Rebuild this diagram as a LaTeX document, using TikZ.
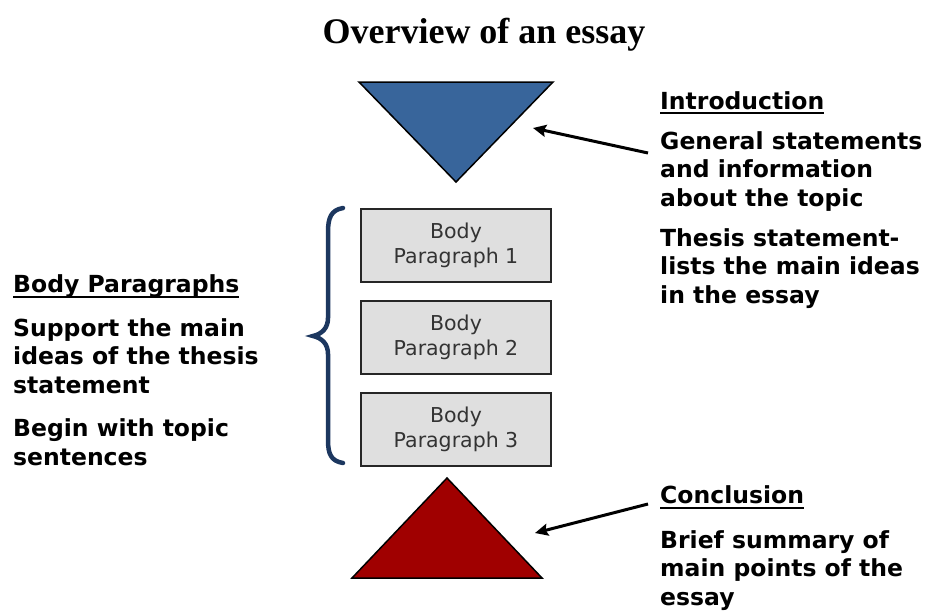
\documentclass[tikz,border=0pt]{standalone}
\usepackage{fontspec}
\setmainfont{DejaVu Sans}
\newfontfamily\titlefont{Liberation Serif}
\usetikzlibrary{positioning,arrows.meta}
\definecolor{introblue}{RGB}{56,101,155}
\definecolor{conclred}{RGB}{160,0,0}
\definecolor{boxgray}{RGB}{223,223,223}
\definecolor{bracenavy}{RGB}{28,55,95}

% underlined heading
\newcommand{\headline}[1]{\setbox0\hbox{#1}\rlap{\vrule height -3pt depth 5pt width \wd0}\box0}

\tikzset{
  note/.style={anchor=base west, align=left, inner sep=0pt,
    font=\fontsize{23.5}{28.5}\selectfont\bfseries},
  parbox/.style={draw=black!85, line width=2pt, fill=boxgray,
    minimum width=190pt, minimum height=73pt, inner sep=0pt,
    align=center, text=black!80, font=\fontsize{20.5}{25}\selectfont},
  pointer/.style={-{Stealth[length=13pt, width=12pt, inset=2pt]}, line width=3pt}
}

\begin{document}
\begin{tikzpicture}[x=1pt, y=-1pt]
    \useasboundingbox (0,0) rectangle (928,613);

    % title
    \node[anchor=base, inner sep=0pt, font=\titlefont\bfseries\fontsize{36}{40}\selectfont]
        (title) at (484,43) {Overview of an essay};

    % triangles
    \draw[fill=introblue, line width=1.5pt, line join=miter] (359,82) -- (553,82) -- (456,182) -- cycle;
    \draw[fill=conclred, line width=1.5pt, line join=miter] (352,578) -- (542,578) -- (447,478) -- cycle;
    \coordinate (introtip) at (533,128);
    \coordinate (concltip) at (535,533);

    % body boxes
    \node[parbox] (body1) at (456,245) {Body\\Paragraph 1};
    \node[parbox, below=17pt of body1] (body2) {Body\\Paragraph 2};
    \node[parbox, below=17pt of body2] (body3) {Body\\Paragraph 3};

    % brace
    \draw[bracenavy, line width=4.5pt, line cap=round]
        (343,208) .. controls (331,210) and (328,218) .. (328,232) -- (328,318)
        .. controls (328,328) and (322,334) .. (313,336)
        .. controls (322,338) and (328,344) .. (328,354) -- (328,440)
        .. controls (328,454) and (331,461) .. (343,463);

    % texts (anchored on their last line)
    \node[note] (intro) at (660,303) {\headline{Introduction}\\[11.5pt]
        General statements\\and information\\about the topic\\[11.5pt]
        Thesis statement-\\lists the main ideas\\in the essay};
    \node[note] (bodytxt) at (13,465) {\headline{Body Paragraphs}\\[15pt]
        Support the main\\ideas of the thesis\\statement\\[15pt]
        Begin with topic\\sentences};
    \node[note] (concl) at (660,605) {\headline{Conclusion}\\[16pt]
        Brief summary of\\main points of the\\essay};

    % arrows
    \coordinate (introtail) at (648,153);
    \coordinate (concltail) at (648,504);
    \draw[pointer] (introtail) -- (introtip);
    \draw[pointer] (concltail) -- (concltip);

\end{tikzpicture}
\end{document}
